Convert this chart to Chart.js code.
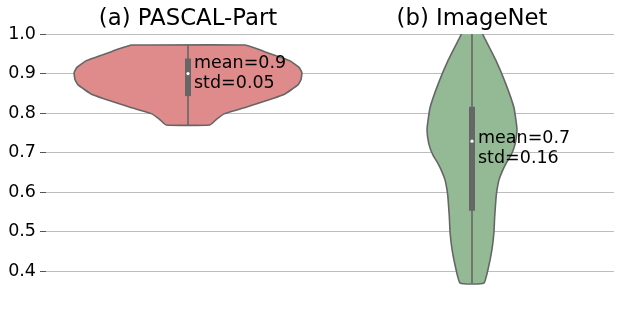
<!DOCTYPE html>
<html>
<head>
<meta charset="utf-8">
<script src="https://cdn.jsdelivr.net/npm/chart.js@4/dist/chart.umd.min.js"></script>
<style>
  html, body { margin: 0; background: #fff; }
  #wrap { width: 623px; height: 320px; }
</style>
</head>
<body>
<div id="wrap"><canvas id="c"></canvas></div>
<script>
// violin panels
const groups = ["(a) PASCAL-Part", "(b) ImageNet"];
const yTicks = [0.4, 0.5, 0.6, 0.7, 0.8, 0.9, 1.0];

// density outline: levels (top -> bottom) and half width in x units
const pascalLevels = [0.972, 0.962, 0.953, 0.932, 0.915, 0.902, 0.885, 0.872, 0.847, 0.818, 0.798, 0.784, 0.770];
const pascalHalfWidth = [0.200, 0.246, 0.278, 0.359, 0.392, 0.401, 0.398, 0.388, 0.338, 0.218, 0.127, 0.100, 0.077];
const imagenetLevels = [1.03, 1.0, 0.932, 0.872, 0.813, 0.763, 0.738, 0.712, 0.692, 0.673, 0.652, 0.631, 0.610, 0.589, 0.540, 0.496, 0.454, 0.410, 0.370];
const imagenetHalfWidth = [0.018, 0.037, 0.085, 0.120, 0.148, 0.158, 0.156, 0.148, 0.136, 0.120, 0.106, 0.095, 0.089, 0.085, 0.080, 0.077, 0.070, 0.058, 0.042];

const boxQ1 = [0.843, 0.553];
const boxQ3 = [0.938, 0.816];
const medians = [0.900, 0.729];
const whiskerLow = [0.770, 0.370];
const whiskerHigh = [0.972, 1.03];

const statText = [["mean=0.9", "std=0.05"], ["mean=0.7", "std=0.16"]];
const statY = [[0.915, 0.864], [0.724, 0.675]];

const fills = ["#E08B8B", "#93BA94"];
const edge = "#666666";
const FONT = '"DejaVu Sans", sans-serif';

function outline(pos, levels, hw) {
  const left = levels.map((v, i) => ({ x: pos - hw[i], y: v }));
  const right = levels.map((v, i) => ({ x: pos + hw[i], y: v })).reverse();
  return [...left, ...right, left[0]];
}

const datasets = [];
[[pascalLevels, pascalHalfWidth], [imagenetLevels, imagenetHalfWidth]].forEach(([lv, hw], i) => {
  datasets.push({
    data: outline(i, lv, hw),
    showLine: true,
    fill: "shape",
    backgroundColor: fills[i],
    borderColor: edge,
    borderWidth: 1.6,
    pointRadius: 0,
    tension: 0.12,
    order: 3,
  });
  // whisker (min-max)
  datasets.push({
    data: [{ x: i, y: whiskerLow[i] }, { x: i, y: whiskerHigh[i] }],
    showLine: true,
    borderColor: edge,
    borderWidth: 1.6,
    pointRadius: 0,
    order: 2,
  });
  // inter-quartile box
  datasets.push({
    data: [{ x: i, y: boxQ1[i] }, { x: i, y: boxQ3[i] }],
    showLine: true,
    borderColor: edge,
    borderWidth: 6,
    borderCapStyle: "butt",
    pointRadius: 0,
    order: 1,
  });
  datasets.push({
    data: [{ x: i, y: medians[i] }],
    pointRadius: 1.6,
    pointBackgroundColor: "#ffffff",
    pointBorderWidth: 0,
    order: 0,
  });
});

const statLabels = {
  id: "statLabels",
  afterDatasetsDraw(chart) {
    const { ctx, scales } = chart;
    ctx.save();
    ctx.font = "17.5px " + FONT;
    ctx.fillStyle = "#000";
    ctx.textAlign = "left";
    ctx.textBaseline = "alphabetic";
    statText.forEach((lines, i) => {
      const x = scales.x.getPixelForValue(i) + 6;
      lines.forEach((t, j) => ctx.fillText(t, x, scales.y.getPixelForValue(statY[i][j])));
    });
    ctx.restore();
  },
};

new Chart(document.getElementById("c"), {
  type: "scatter",
  data: { datasets },
  plugins: [statLabels],
  options: {
    responsive: true,
    maintainAspectRatio: false,
    animation: false,
    layout: { padding: { left: 0, right: 9, top: 0, bottom: 29 } },
    plugins: { legend: { display: false }, tooltip: { enabled: false } },
    scales: {
      x: {
        position: "top",
        min: -0.5,
        max: 1.5,
        afterBuildTicks: (s) => { s.ticks = groups.map((g, i) => ({ value: i })); },
        afterFit: (s) => { s.height = 34; },
        ticks: {
          autoSkip: false,
          maxRotation: 0,
          padding: 1,
          color: "#000",
          font: { family: FONT, size: 22.8 },
          callback: (v) => groups[v] ?? "",
        },
        grid: { display: false, drawTicks: false },
        border: { display: false },
      },
      y: {
        min: 0.35,
        max: 1.0,
        afterBuildTicks: (s) => { s.ticks = yTicks.map((v) => ({ value: v })); },
        afterFit: (s) => { s.width = 46; },
        ticks: {
          padding: 4,
          color: "#000",
          font: { family: FONT, size: 17.5 },
          callback: (v) => Number(v).toFixed(1),
        },
        grid: { color: "#bdbdbd", lineWidth: 1, tickLength: 6, tickColor: "#555" },
        border: { display: false },
      },
    },
  },
});
</script>
</body>
</html>
